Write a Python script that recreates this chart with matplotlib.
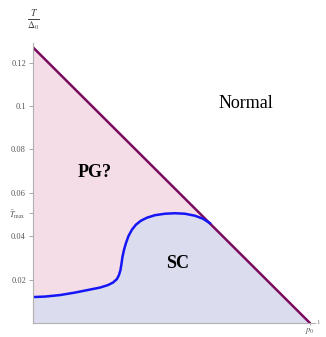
import numpy as np
import matplotlib
matplotlib.use("Agg")
import matplotlib.pyplot as plt

# phase boundary T/Delta0 = t0 * (1 - p/p0)
t0 = 0.127
t_max = 0.0506

# superconducting dome, p in units of p0
sc_p = [0.0, 0.0433, 0.0975, 0.1516, 0.2058, 0.2419, 0.2708, 0.2888, 0.3032,
        0.3105, 0.3159, 0.3195, 0.3231, 0.3285, 0.3357, 0.3448, 0.3574, 0.3718,
        0.3899, 0.4116, 0.4404, 0.4765, 0.5126, 0.5487, 0.5848, 0.6137, 0.639]
sc_t = [0.01195, 0.01218, 0.01287, 0.01402, 0.0154, 0.01632, 0.01747, 0.01862,
        0.02023, 0.02207, 0.02437, 0.02713, 0.03034, 0.03356, 0.03678, 0.0400,
        0.04299, 0.04529, 0.04713, 0.04851, 0.04966, 0.05034, 0.05057, 0.05034,
        0.04943, 0.04805, 0.04598]

ytick_vals = [0.02, 0.04, t_max, 0.06, 0.08, 0.1, 0.12]
ytick_labels = ["0.02", "0.04", r"$\tilde{T}_{\rm max}$", "0.06", "0.08", "0.1", "0.12"]

plt.rcParams['font.family'] = ['Liberation Serif', 'DejaVu Serif']
plt.rcParams['mathtext.fontset'] = 'stix'

fig = plt.figure(figsize=(3.26, 3.37), dpi=100)
ax = fig.add_axes([0.101, 0.0415, 0.865, 0.831])

pink = '#f5dde8'
lav = '#dcdcef'

p_line = np.array([0.0, 1.0])
ax.fill_between(p_line, 0, t0 * (1 - p_line), color=pink, lw=0)

# SC region: under dome, then under the boundary line past the crossing
fill_p = np.concatenate([sc_p, [1.0]])
fill_t = np.concatenate([sc_t, [0.0]])
ax.fill_between(fill_p, 0, fill_t, color=lav, lw=0)

ax.plot(p_line, t0 * (1 - p_line), color='#7a0a5e', lw=1.8, solid_capstyle='round')
ax.plot(sc_p, sc_t, color='#1515f5', lw=1.8, solid_joinstyle='round')

ax.set_xlim(0, 1.018)
ax.set_ylim(0, 0.129)

ax.spines['top'].set_visible(False)
ax.spines['right'].set_visible(False)
for s in ['left', 'bottom']:
    ax.spines[s].set_color('#b0b0b0')
    ax.spines[s].set_linewidth(0.8)

ax.set_yticks(ytick_vals)
ax.set_yticklabels(ytick_labels)
ax.set_xticks([1.0])
ax.set_xticklabels([r"$p_0$"])
ax.tick_params(axis='both', length=3, width=0.6, color='#999999', labelsize=6,
               labelcolor='#555555', pad=2)
ax.tick_params(axis='x', length=1.5, pad=0.5)

ax.text(0.769, 0.101, "Normal", fontsize=13, ha='center', va='center')
ax.text(0.224, 0.0694, "PG?", fontsize=13, fontweight='bold', ha='center', va='center')
ax.text(0.523, 0.0276, "SC", fontsize=13, fontweight='bold', ha='center', va='center')

fig.text(33 / 326, 1 - 21 / 337, r"$\frac{T}{\Delta_0}$", fontsize=10, ha='center',
         va='center', color='#444444')
fig.text(318 / 326, 1 - 322 / 337, "1", fontsize=5, ha='center', va='center',
         color='#777777')

fig.savefig("out.png", dpi=100)
